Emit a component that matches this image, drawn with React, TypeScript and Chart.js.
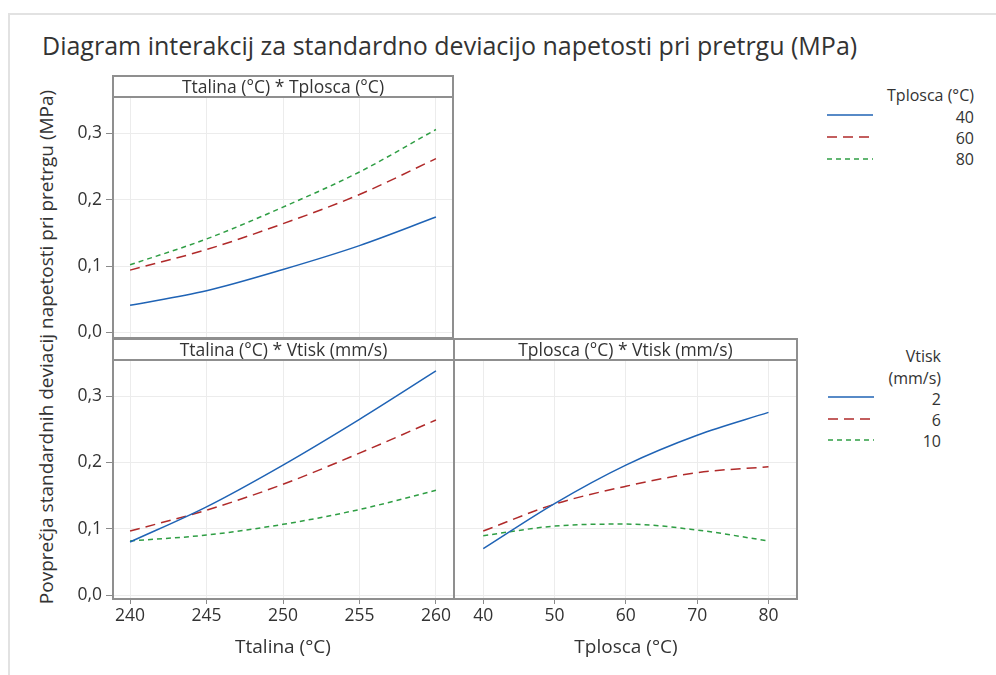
import React, { useEffect, useRef } from "react";
import { Chart, registerables } from "chart.js";

Chart.register(...registerables);

// ---------- data ----------
const ttalinaX = [240, 245, 250, 255, 260];
const tploscaX = [40, 50, 60, 70, 80];
const ttalinaTicks = [240, 245, 250, 255, 260];
const tploscaTicks = [40, 50, 60, 70, 80];
const yTicks = [0, 0.1, 0.2, 0.3];

const tploscaLevels = ["40", "60", "80"];
const vtiskLevels = ["2", "6", "10"];

// Ttalina * Tplosca (series = Tplosca levels)
const ttTp40 = [0.041, 0.063, 0.095, 0.131, 0.174];
const ttTp60 = [0.094, 0.125, 0.164, 0.208, 0.262];
const ttTp80 = [0.102, 0.141, 0.189, 0.242, 0.306];
// Ttalina * Vtisk (series = Vtisk levels)
const ttVt2 = [0.080, 0.133, 0.196, 0.265, 0.338];
const ttVt6 = [0.0965, 0.128, 0.167, 0.214, 0.264];
const ttVt10 = [0.0815, 0.0905, 0.1066, 0.129, 0.158];
// Tplosca * Vtisk (series = Vtisk levels)
const tpVt2 = [0.070, 0.138, 0.196, 0.241, 0.2755];
const tpVt6 = [0.0965, 0.137, 0.164, 0.1845, 0.1935];
const tpVt10 = [0.0895, 0.104, 0.107, 0.098, 0.0815];

const titleText = "Diagram interakcij za standardno deviacijo napetosti pri pretrgu (MPa)";
const yTitle = "Povprečja standardnih deviacij napetosti pri pretrgu (MPa)";
const strip1 = "Ttalina (°C) * Tplosca (°C)";
const strip2 = "Ttalina (°C) * Vtisk (mm/s)";
const strip3 = "Tplosca (°C) * Vtisk (mm/s)";
const xTitle1 = "Ttalina (°C)";
const xTitle2 = "Tplosca (°C)";
const legTitle1 = "Tplosca (°C)";
const legTitle2a = "Vtisk";
const legTitle2b = "(mm/s)";

// ---------- styles ----------
const FONT = '"Open Sans", "Noto Sans", sans-serif';
const TEXT = "#333333";
const COLORS = ["#1f63b5", "#b02a2a", "#2f9e44"];
const DASHES: number[][] = [[], [10, 6], [5, 4]];
const BORDER = "2px solid #8f8f8f";
const TICK_SIZE = 17.5;
const AXIS_TITLE_SIZE = 19;
const LEGEND_SIZE = 16;

type Series = { values: number[]; color: string; dash: number[] };

type PanelProps = {
  left: number; top: number; width: number; height: number;
  yW: number; xH: number;
  xs: number[]; xMin: number; xMax: number; xTicks: number[];
  yMin: number; yMax: number;
  showY: boolean; showX: boolean; yTicksOn: boolean; xTicksOn: boolean;
  series: Series[];
};

function Panel(p: PanelProps) {
  const ref = useRef<HTMLCanvasElement>(null);
  useEffect(() => {
    const chart = new Chart(ref.current as HTMLCanvasElement, {
      type: "line",
      data: {
        datasets: p.series.map((s) => ({
          data: p.xs.map((x, i) => ({ x, y: s.values[i] })),
          borderColor: s.color,
          borderWidth: 1.5,
          borderDash: s.dash,
          pointRadius: 0,
          cubicInterpolationMode: "monotone",
          fill: false,
        })),
      },
      options: {
        responsive: false,
        animation: false,
        devicePixelRatio: 1,
        layout: { padding: 0 },
        plugins: { legend: { display: false }, tooltip: { enabled: false } },
        scales: {
          x: {
            type: "linear",
            min: p.xMin,
            max: p.xMax,
            afterBuildTicks: (s: any) => { s.ticks = p.xTicks.map((v) => ({ value: v })); },
            afterFit: (s: any) => { s.height = p.xH; s.paddingLeft = 0; s.paddingRight = 0; s.paddingTop = 0; s.paddingBottom = 0; },
            grid: { color: "#ececec", lineWidth: 1, drawTicks: p.xTicksOn, tickLength: 5, tickColor: "#8a8a8a" },
            border: { display: false },
            ticks: {
              display: p.showX, padding: 2, color: TEXT, autoSkip: false, maxRotation: 0,
              font: { family: FONT, size: TICK_SIZE },
              callback: (v: any) => String(v),
            },
          },
          y: {
            type: "linear",
            min: p.yMin,
            max: p.yMax,
            afterBuildTicks: (s: any) => { s.ticks = yTicks.map((v) => ({ value: v })); },
            afterFit: (s: any) => { s.width = p.yW; s.paddingLeft = 0; s.paddingRight = 0; s.paddingTop = 0; s.paddingBottom = 0; },
            grid: { color: "#ececec", lineWidth: 1, drawTicks: p.yTicksOn, tickLength: 6, tickColor: "#8a8a8a" },
            border: { display: false },
            ticks: {
              display: p.showY, padding: 4, color: TEXT, autoSkip: false,
              font: { family: FONT, size: TICK_SIZE },
              callback: (v: any) => Number(v).toFixed(1).replace(".", ","),
            },
          },
        },
      } as any,
    });
    return () => chart.destroy();
  }, []);
  return (
    <canvas
      ref={ref}
      width={p.width}
      height={p.height}
      style={{ position: "absolute", left: p.left, top: p.top, width: p.width, height: p.height }}
    />
  );
}

function Box(props: { left: number; top: number; width: number; height: number; label: string }) {
  const { left, top, width, height, label } = props;
  return (
    <div style={{ position: "absolute", left, top, width, height, boxSizing: "border-box", border: BORDER, pointerEvents: "none" }}>
      <div style={{
        height: 21, boxSizing: "border-box", borderBottom: BORDER, background: "#fff",
        textAlign: "center", font: `${TICK_SIZE}px ${FONT}`, lineHeight: "19px", color: TEXT, whiteSpace: "nowrap",
      }}>{label}</div>
    </div>
  );
}

function RText(props: { right: number; cy: number; text: string; size?: number }) {
  const size = props.size || LEGEND_SIZE;
  return (
    <div style={{
      position: "absolute", right: 996 - props.right, top: props.cy - 11, lineHeight: "22px",
      font: `${size}px ${FONT}`, color: TEXT, whiteSpace: "nowrap", textAlign: "right",
    }}>{props.text}</div>
  );
}

function LegLine(props: { x: number; y: number; color: string; dash: number[] }) {
  return (
    <svg style={{ position: "absolute", left: props.x, top: props.y - 3, overflow: "visible" }} width={46} height={6}>
      <line x1={0} y1={3} x2={46} y2={3} stroke={props.color} strokeWidth={1.6}
        strokeDasharray={props.dash.length ? props.dash.join(" ") : undefined} />
    </svg>
  );
}

export default function App() {
  const yMinTop = -0.0083, yMaxTop = 0.355;
  const yMinBot = -0.006, yMaxBot = 0.356;
  const ttSeries: Series[] = [ttTp40, ttTp60, ttTp80].map((v, i) => ({ values: v, color: COLORS[i], dash: DASHES[i] }));
  const ttVtSeries: Series[] = [ttVt2, ttVt6, ttVt10].map((v, i) => ({ values: v, color: COLORS[i], dash: DASHES[i] }));
  const tpVtSeries: Series[] = [tpVt2, tpVt6, tpVt10].map((v, i) => ({ values: v, color: COLORS[i], dash: DASHES[i] }));

  return (
    <div style={{ position: "absolute", left: 0, top: 0, width: 996, height: 675, overflow: "hidden", background: "#fff" }}>
      <div style={{ position: "absolute", left: 8, top: 13, width: 1000, height: 700, borderLeft: "2px solid #e2e2e2", borderTop: "2px solid #e2e2e2" }} />

      <div style={{ position: "absolute", left: 42, top: 28, lineHeight: "34px", font: `25px ${FONT}`, color: TEXT, whiteSpace: "nowrap" }}>
        {titleText}
      </div>

      <div style={{
        position: "absolute", left: 46, top: 347, transform: "translate(-50%, -50%) rotate(-90deg)",
        font: `${AXIS_TITLE_SIZE}px ${FONT}`, color: TEXT, whiteSpace: "nowrap",
      }}>{yTitle}</div>

      <Panel left={60} top={97} width={394} height={251} yW={52} xH={10}
        xs={ttalinaX} xMin={238.82} xMax={261.18} xTicks={ttalinaTicks}
        yMin={yMinTop} yMax={yMaxTop} showY={true} showX={false} yTicksOn={true} xTicksOn={false}
        series={ttSeries} />
      <Panel left={60} top={359} width={394} height={280} yW={52} xH={40}
        xs={ttalinaX} xMin={238.82} xMax={261.18} xTicks={ttalinaTicks}
        yMin={yMinBot} yMax={yMaxBot} showY={true} showX={true} yTicksOn={true} xTicksOn={true}
        series={ttVtSeries} />
      <Panel left={454} top={359} width={343} height={280} yW={0} xH={40}
        xs={tploscaX} xMin={35.9} xMax={84.0} xTicks={tploscaTicks}
        yMin={yMinBot} yMax={yMaxBot} showY={false} showX={true} yTicksOn={false} xTicksOn={true}
        series={tpVtSeries} />

      <Box left={112} top={75} width={342} height={264} label={strip1} />
      <Box left={112} top={338} width={343} height={262} label={strip2} />
      <Box left={453} top={338} width={345} height={262} label={strip3} />

      <div style={{ position: "absolute", left: 283, top: 646, transform: "translate(-50%, -50%)", font: `${AXIS_TITLE_SIZE}px ${FONT}`, color: TEXT, whiteSpace: "nowrap" }}>{xTitle1}</div>
      <div style={{ position: "absolute", left: 626, top: 646, transform: "translate(-50%, -50%)", font: `${AXIS_TITLE_SIZE}px ${FONT}`, color: TEXT, whiteSpace: "nowrap" }}>{xTitle2}</div>

      <RText right={974} cy={95} text={legTitle1} />
      {tploscaLevels.map((t, i) => (
        <React.Fragment key={"a" + i}>
          <LegLine x={827} y={[115, 137, 159][i]} color={COLORS[i]} dash={DASHES[i]} />
          <RText right={974} cy={[117, 138, 159][i]} text={t} />
        </React.Fragment>
      ))}

      <RText right={941} cy={356} text={legTitle2a} />
      <RText right={941} cy={378} text={legTitle2b} />
      {vtiskLevels.map((t, i) => (
        <React.Fragment key={"b" + i}>
          <LegLine x={828} y={[397, 419, 440][i]} color={COLORS[i]} dash={DASHES[i]} />
          <RText right={941} cy={[399, 420, 441][i]} text={t} />
        </React.Fragment>
      ))}
    </div>
  );
}
